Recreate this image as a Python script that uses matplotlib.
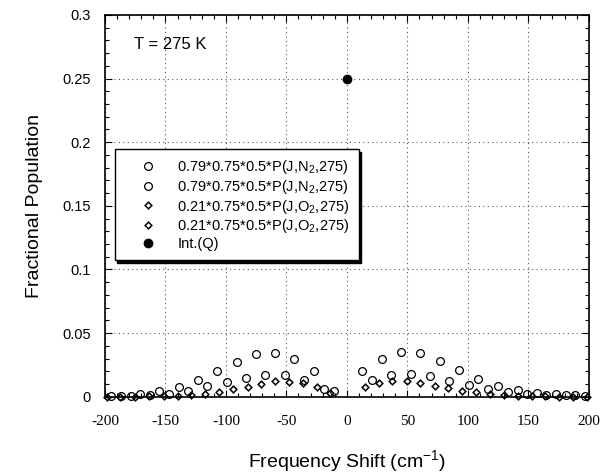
import matplotlib
matplotlib.use("Agg")
import matplotlib.pyplot as plt
from matplotlib.ticker import MultipleLocator

plt.rcParams["font.family"] = ["Liberation Sans", "DejaVu Sans"]
plt.rcParams["mathtext.fontset"] = "custom"
plt.rcParams["mathtext.rm"] = "Liberation Sans"
plt.rcParams["mathtext.it"] = "Liberation Sans:italic"
plt.rcParams["axes.unicode_minus"] = False

# N2, positive shift side
n2_pos_x = [12.6, 20.8, 28.7, 36.9, 44.4, 52.7, 60.7, 68.9, 76.9, 84.6, 92.6, 100.9,
            108.6, 116.9, 124.9, 132.9, 141.2, 148.6, 157.0, 164.6, 172.6, 180.9,
            188.6, 196.5]
n2_pos_y = [0.020, 0.013, 0.030, 0.017, 0.035, 0.018, 0.034, 0.016, 0.028, 0.0126,
            0.021, 0.0092, 0.014, 0.0058, 0.0087, 0.0037, 0.0053, 0.0024, 0.0031,
            0.0016, 0.0019, 0.0011, 0.0013, 0.0007]

# N2, negative shift side
n2_neg_x = [-11.0, -19.0, -26.9, -35.2, -43.4, -51.1, -59.1, -67.4, -75.1, -83.4,
            -91.1, -99.1, -107.4, -115.4, -123.1, -131.1, -139.1, -146.8, -155.1,
            -163.0, -171.0, -178.5, -186.8, -195.0]
n2_neg_y = [0.0045, 0.0062, 0.020, 0.013, 0.030, 0.0168, 0.0346, 0.0173, 0.0335,
            0.0149, 0.0273, 0.0118, 0.020, 0.0082, 0.0131, 0.0047, 0.0074, 0.0024,
            0.0045, 0.0012, 0.0019, 0.0005, 0.0008, 0.0003]

# O2, positive shift side
o2_pos_x = [15.0, 26.3, 37.4, 49.8, 60.8, 72.6, 84.0, 95.3, 106.9, 118.4, 129.7,
            141.9, 153.2, 164.2, 175.2, 187.3, 198.5]
o2_pos_y = [0.0079, 0.011, 0.0123, 0.0123, 0.011, 0.0087, 0.0066, 0.0047, 0.0035,
            0.0019, 0.0011, 0.0006, 0.0003, 0.0002, 0.0001, 0.0001, 0.0]

# O2, negative shift side
o2_neg_x = [-14.2, -25.0, -36.6, -48.1, -59.7, -71.0, -82.0, -94.5, -106.0, -117.0,
            -128.9, -140.0, -151.5, -163.4, -175.2, -187.3, -198.7]
o2_neg_y = [0.0027, 0.0074, 0.0105, 0.0118, 0.0121, 0.0100, 0.0074, 0.0058, 0.0040,
            0.0024, 0.0013, 0.0005, 0.0003, 0.0002, 0.0001, 0.0, 0.0]

q_x = [0.0]
q_y = [0.25]

labels = [
    "0.79*0.75*0.5*P(J,N$_2$,275)",
    "0.79*0.75*0.5*P(J,N$_2$,275)",
    "0.21*0.75*0.5*P(J,O$_2$,275)",
    "0.21*0.75*0.5*P(J,O$_2$,275)",
    "Int.(Q)",
]

fig = plt.figure(figsize=(6.02, 4.76), dpi=100)
ax = fig.add_axes([0.1744, 0.1666, 0.8036, 0.802])

circ = dict(ls="none", marker="o", ms=5.6, mfc="none", mec="black", mew=0.9, clip_on=False)
diam = dict(ls="none", marker="D", ms=3.4, mfc="none", mec="black", mew=1.1, clip_on=False)

ax.plot(n2_pos_x, n2_pos_y, label=labels[0], **circ)
ax.plot(n2_neg_x, n2_neg_y, label=labels[1], **circ)
ax.plot(o2_pos_x, o2_pos_y, label=labels[2], **diam)
ax.plot(o2_neg_x, o2_neg_y, label=labels[3], **diam)
ax.plot(q_x, q_y, ls="none", marker="o", ms=6, color="black", label=labels[4])

ax.set_xlim(-200, 200)
ax.set_ylim(0, 0.3)
ax.xaxis.set_major_locator(MultipleLocator(50))
ax.xaxis.set_minor_locator(MultipleLocator(10))
ax.yaxis.set_major_locator(MultipleLocator(0.05))
ax.yaxis.set_minor_locator(MultipleLocator(0.01))
ax.set_yticks([0, 0.05, 0.1, 0.15, 0.2, 0.25, 0.3])
ax.set_yticklabels(["0", "0.05", "0.1", "0.15", "0.2", "0.25", "0.3"])
ax.tick_params(which="both", direction="in", top=True, right=True, color="black")
ax.tick_params(which="major", length=5, width=0.8)
ax.tick_params(which="minor", length=3, width=0.8)
ax.tick_params(axis="y", labelsize=10.5, pad=10)
ax.tick_params(axis="x", labelsize=11, pad=13)
for lab in ax.get_xticklabels():
    lab.set_family("Liberation Serif")

ax.grid(True, which="major", color="#555555", lw=0.8, ls=(0, (1, 3)))
for sp in ax.spines.values():
    sp.set_linewidth(1.2)

ax.set_xlabel("Frequency Shift (cm$^{-1}$)", fontsize=14, labelpad=15)
ax.set_ylabel("Fractional Population", fontsize=14, labelpad=14)

ax.text(-176, 0.277, "T = 275 K", fontsize=12, va="center", ha="left")

leg = ax.legend(loc="upper left", bbox_to_anchor=(0.02, 0.648), fontsize=10.5,
                frameon=True, fancybox=False, shadow={"color": "black", "alpha": 1.0},
                edgecolor="black", framealpha=1.0, handlelength=3.4,
                handletextpad=0.3, borderpad=0.6, labelspacing=0.12,
                borderaxespad=0.0)
leg.get_frame().set_linewidth(1.0)

fig.savefig("out.png", dpi=100)
